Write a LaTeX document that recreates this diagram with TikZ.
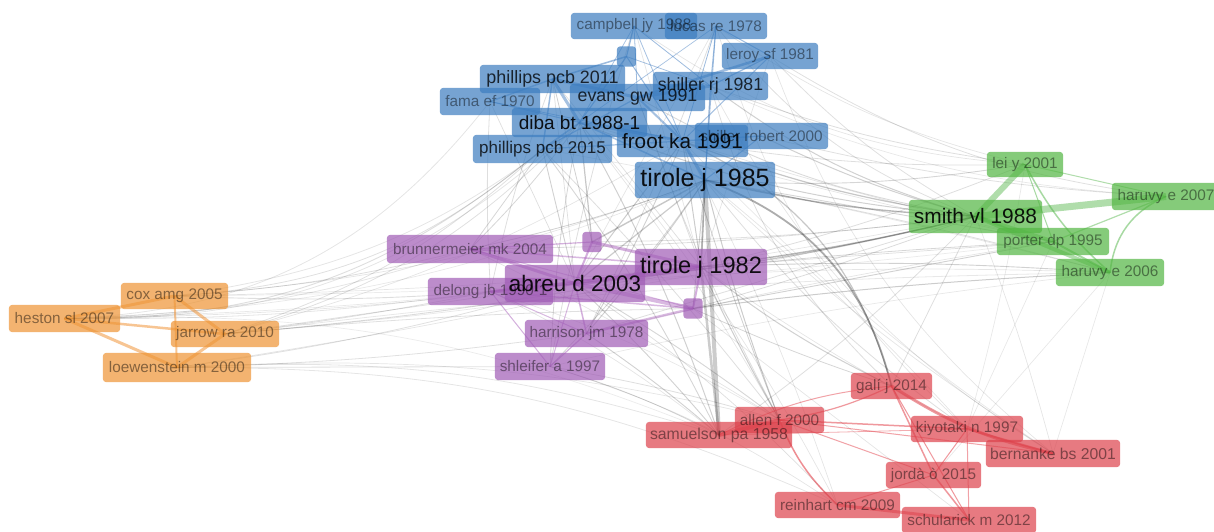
\documentclass[tikz,border=0pt]{standalone}
\usepackage{fontspec}
\setmainfont{Liberation Sans}
\usetikzlibrary{backgrounds}
\pgfdeclarelayer{boxes}
\pgfsetlayers{background,boxes,main}
\definecolor{cblue}{RGB}{60,125,192}
\definecolor{cpurple}{RGB}{160,92,182}
\definecolor{cgreen}{RGB}{82,182,66}
\definecolor{corange}{RGB}{238,148,52}
\definecolor{cred}{RGB}{221,66,76}
\definecolor{eblue}{RGB}{60,120,190}
\definecolor{epurple}{RGB}{160,80,180}
\definecolor{egreen}{RGB}{80,180,70}
\definecolor{eorange}{RGB}{240,140,40}
\definecolor{ered}{RGB}{225,50,60}
\newcommand\myfs[1]{\fontsize{#1}{#1}\selectfont}
\begin{document}
\begin{tikzpicture}[x=1pt,y=-1pt,
  lbl/.style={rectangle, inner sep=0pt, text=black, align=center},
  sm/.style={lbl, text opacity=0.45, font=\myfs{15.3}},
  md/.style={lbl, text opacity=0.78},
  lg/.style={lbl, text opacity=0.9},
  sq/.style={rectangle, inner sep=0pt, minimum width=19pt, minimum height=20pt},
  boxfill/.style={fill=#1, fill opacity=0.7, rounded corners=3.5pt},
  gedge/.style={draw=black, line cap=round}
]
\useasboundingbox (0,0) rectangle (1214,531);
% ---------- blue cluster
\node[sm,minimum width=102pt,minimum height=26pt] (lucas) at (716,26) {lucas re 1978};
\node[sm,minimum width=126pt,minimum height=26pt] (campbell) at (634,26) {campbell jy 1988};
\node[sm,minimum width=96pt,minimum height=26pt] (leroy) at (770,56) {leroy sf 1981};
\node[sq] (sqA) at (626.5,56.5) {};
\node[sm,minimum width=100pt,minimum height=27pt] (fama) at (490,101.5) {fama ef 1970};
\node[md,font=\myfs{17.9},minimum width=145pt,minimum height=28pt] (phil11) at (552.5,79) {phillips pcb 2011};
\node[md,font=\myfs{17.7},minimum width=115pt,minimum height=28pt] (shil81) at (710.5,86) {shiller rj 1981};
\node[md,font=\myfs{17.8},minimum width=135pt,minimum height=27pt] (evans) at (637.5,97.5) {evans gw 1991};
\node[lg,font=\myfs{19},minimum width=135pt,minimum height=29pt] (diba) at (579.5,122.5) {diba bt 1988-1};
\node[md,font=\myfs{17},minimum width=139pt,minimum height=28pt] (phil15) at (542.5,149) {phillips pcb 2015};
\node[sm,minimum width=133pt,minimum height=26pt] (shilR) at (761.5,136) {shiller robert 2000};
\node[lg,font=\myfs{20.7},minimum width=131pt,minimum height=32pt] (froot) at (682.5,141) {froot ka 1991};
\node[lg,font=\myfs{25},minimum width=140pt,minimum height=36pt] (tir85) at (705,180) {tirole j 1985};
% ---------- purple cluster
\node[sm,minimum width=166pt,minimum height=28pt] (brunn) at (470,249) {brunnermeier mk 2004};
\node[sq] (sqC) at (592,242) {};
\node[sm,minimum width=125pt,minimum height=27pt] (delong) at (490.5,291.5) {delong jb 1990-1};
\node[lg,font=\myfs{23.6},minimum width=132pt,minimum height=36pt] (tir82) at (701,267) {tirole j 1982};
\node[lg,font=\myfs{22.4},minimum width=140pt,minimum height=37pt] (abreu) at (575,283.5) {abreu d 2003};
\node[sq] (sqD) at (693,308.5) {};
\node[sm,minimum width=123pt,minimum height=27pt] (harr) at (586.5,333.5) {harrison jm 1978};
\node[sm,minimum width=110pt,minimum height=27pt] (shlei) at (550,366.5) {shleifer a 1997};
% ---------- green cluster
\node[sm,minimum width=76pt,minimum height=25pt] (lei) at (1025,164.5) {lei y 2001};
\node[sm,minimum width=108pt,minimum height=27pt] (haru07) at (1166,196.5) {haruvy e 2007};
\node[lg,font=\myfs{20.9},minimum width=133pt,minimum height=33pt] (smith) at (975.5,216.5) {smith vl 1988};
\node[sm,minimum width=112pt,minimum height=27pt] (porter) at (1053,241.5) {porter dp 1995};
\node[sm,minimum width=108pt,minimum height=27pt] (haru06) at (1110,272.5) {haruvy e 2006};
% ---------- orange cluster
\node[sm,minimum width=107pt,minimum height=26pt] (cox) at (174.5,296) {cox amg 2005};
\node[sm,minimum width=111pt,minimum height=27pt] (heston) at (64.5,318.5) {heston sl 2007};
\node[sm,minimum width=108pt,minimum height=26pt] (jarrow) at (225,334) {jarrow ra 2010};
\node[sm,minimum width=148pt,minimum height=29pt] (loew) at (177,367.5) {loewenstein m 2000};
% ---------- red cluster
\node[sm,minimum width=81pt,minimum height=26pt] (gali) at (891.5,386) {galí j 2014};
\node[sm,font=\myfs{15.8},minimum width=146pt,minimum height=26pt] (samu) at (719,435) {samuelson pa 1958};
\node[sm,minimum width=89pt,minimum height=26pt] (allen) at (779.5,420) {allen f 2000};
\node[sm,minimum width=112pt,minimum height=26pt] (kiyo) at (967,429) {kiyotaki n 1997};
\node[sm,font=\myfs{15.7},minimum width=134pt,minimum height=27pt] (bern) at (1053,453.5) {bernanke bs 2001};
\node[sm,minimum width=95pt,minimum height=26pt] (jorda) at (933.5,475) {jordà ò 2015};
\node[sm,minimum width=125pt,minimum height=26pt] (rein) at (837.5,505) {reinhart cm 2009};
\node[sm,minimum width=134pt,minimum height=26pt] (schul) at (969,520) {schularick m 2012};

% ---------- boxes (below all texts)
\begin{pgfonlayer}{boxes}
\foreach \n/\c in {lucas/cblue, campbell/cblue, leroy/cblue, sqA/cblue, fama/cblue, phil11/cblue,
  shil81/cblue, evans/cblue, diba/cblue, phil15/cblue, shilR/cblue, froot/cblue, tir85/cblue,
  brunn/cpurple, sqC/cpurple, delong/cpurple, tir82/cpurple, abreu/cpurple, sqD/cpurple, harr/cpurple, shlei/cpurple,
  lei/cgreen, haru07/cgreen, smith/cgreen, porter/cgreen, haru06/cgreen,
  cox/corange, heston/corange, jarrow/corange, loew/corange,
  gali/cred, samu/cred, allen/cred, kiyo/cred, bern/cred, jorda/cred, rein/cred, schul/cred}
  \fill[boxfill=\c] (\n.south west) rectangle (\n.north east);
\end{pgfonlayer}

\begin{pgfonlayer}{background}
\fill[white] (0,0) rectangle (1214,531);
% ---------- gray inter-cluster links
\foreach \a/\b/\bd/\w/\o in {
 tir85/samu/0/4/0.2, tir82/samu/0/2.5/0.2, tir85/gali/28/1.8/0.32, froot/gali/25/1.2/0.22,
 tir85/smith/-5/1.4/0.28, tir82/smith/-3/1.4/0.28, abreu/smith/-4/1.2/0.22, froot/smith/-6/1.2/0.22,
 diba/smith/-8/1/0.18, shil81/smith/-10/1/0.18, evans/smith/-10/0.9/0.14, shilR/smith/-5/1/0.18,
 heston/phil15/-20/0.9/0.13, heston/diba/-22/0.8/0.1, heston/fama/-25/0.8/0.1, cox/phil15/-18/0.8/0.12,
 cox/diba/-15/0.8/0.1, jarrow/diba/-15/0.8/0.12, jarrow/phil15/-12/0.8/0.12, cox/brunn/-5/0.8/0.13,
 cox/abreu/-4/0.9/0.13, heston/brunn/-8/0.8/0.1, heston/delong/-4/0.8/0.1, jarrow/tir82/-3/0.9/0.14,
 jarrow/delong/-2/0.8/0.12, jarrow/sqD/2/0.8/0.12, loew/harr/-3/0.8/0.12, loew/abreu/-4/0.8/0.12,
 loew/shlei/0/0.8/0.12, loew/samu/10/0.8/0.1, loew/rein/12/0.8/0.1, heston/samu/12/0.7/0.08,
 jarrow/haru06/3/0.8/0.09, cox/porter/-3/0.7/0.08, jarrow/smith/-4/0.7/0.09, loew/allen/8/0.7/0.1,
 heston/tir85/-10/0.7/0.09, cox/tir85/-8/0.7/0.1, jarrow/froot/-8/0.7/0.1, heston/tir82/-3/0.7/0.09,
 cox/tir82/-2/0.7/0.1, jarrow/abreu/0/0.8/0.12, loew/tir82/-2/0.7/0.1, heston/abreu/-3/0.7/0.1,
 brunn/phil15/0/0.8/0.16, brunn/diba/-4/0.8/0.16, brunn/tir85/-4/0.8/0.18, delong/phil11/4/0.8/0.13,
 delong/fama/3/0.8/0.13, harr/froot/-3/0.9/0.18, harr/tir85/-3/0.9/0.18, shlei/diba/4/0.8/0.16,
 shlei/tir85/-4/0.8/0.16, abreu/phil15/0/0.9/0.18, abreu/froot/0/1/0.2, tir82/froot/0/1/0.2,
 tir82/tir85/0/1.8/0.25, sqD/tir85/0/1/0.18, sqC/phil11/0/0.8/0.18, shlei/campbell/3/0.8/0.13,
 harr/lucas/-3/0.8/0.13, sqC/tir85/0/1.4/0.22, sqC/diba/0/1.2/0.22, abreu/tir85/0/1.2/0.2,
 tir82/haru06/3/0.9/0.18, sqD/haru06/2/1/0.2, sqD/porter/0/0.9/0.18, abreu/porter/2/0.8/0.16,
 brunn/smith/-3/0.8/0.13, delong/smith/-2/0.7/0.1, harr/smith/0/0.8/0.13, shlei/haru06/3/0.7/0.09,
 tir82/lei/-4/0.8/0.13, tir85/lei/-6/0.9/0.16, tir85/porter/0/0.9/0.16, tir85/haru06/2/0.8/0.13,
 froot/lei/-5/0.8/0.13, shil81/lei/-6/0.8/0.13, leroy/haru07/-12/0.8/0.12, lucas/smith/-15/0.8/0.12,
 shilR/haru07/-5/0.8/0.12, diba/porter/-2/0.7/0.1, phil15/haru06/2/0.7/0.09, campbell/lei/-15/0.7/0.1,
 diba/samu/5/1/0.18, phil15/samu/5/0.9/0.16, phil15/allen/3/0.8/0.13, evans/allen/-4/0.8/0.13,
 froot/allen/-2/0.8/0.18, tir85/allen/-3/1/0.2, tir85/kiyo/-8/0.8/0.13, shil81/gali/-15/0.8/0.13,
 shil81/bern/-15/0.7/0.1, leroy/bern/-15/0.7/0.1, lucas/kiyo/-15/0.7/0.1, froot/rein/4/0.7/0.1,
 diba/rein/6/0.7/0.1, tir82/gali/-6/1/0.18, tir82/allen/-2/1/0.2, abreu/samu/3/0.9/0.18,
 abreu/rein/6/0.7/0.13, harr/samu/3/0.9/0.18, shlei/samu/5/0.8/0.16, shlei/allen/3/0.8/0.13,
 sqD/gali/-3/0.8/0.16, sqD/schul/0/0.7/0.1, delong/samu/6/0.7/0.1, brunn/allen/3/0.7/0.1,
 shlei/rein/8/0.7/0.1, smith/gali/0/0.8/0.13, smith/bern/3/0.7/0.1, porter/kiyo/0/0.7/0.09,
 haru06/bern/0/0.7/0.09, lei/kiyo/3/0.7/0.09, haru06/jorda/0/0.7/0.09, smith/samu/5/0.8/0.13,
 tir85/kiyo/4/0.7/0.1, froot/bern/-6/0.7/0.09, diba/allen/4/0.7/0.1, abreu/allen/3/0.9/0.16,
 delong/allen/6/0.7/0.09, tir82/kiyo/-3/0.7/0.1, tir82/porter/0/0.7/0.13, abreu/haru06/3/0.7/0.1,
 phil11/tir82/0/0.7/0.13, fama/abreu/0/0.7/0.13, evans/tir82/0/0.7/0.13, campbell/tir82/0/0.7/0.1,
 leroy/tir82/0/0.7/0.1, shil81/tir82/0/0.8/0.13, lucas/abreu/0/0.7/0.1, phil11/abreu/0/0.7/0.13,
 tir85/bern/-5/0.7/0.1, sqD/smith/-2/0.8/0.14, harr/porter/2/0.7/0.1, froot/porter/-2/0.7/0.1,
 lucas/lei/-10/0.7/0.1, leroy/smith/-8/0.8/0.12, shil81/haru07/-10/0.7/0.09, sqC/smith/-3/0.8/0.12}
 \draw[gedge, line width=\w pt, draw opacity=\o] (\a.center) to[bend left=\bd] (\b.center);
% ---------- blue links
\foreach \a/\b/\bd/\w/\o in {
 campbell/shil81/0/0.8/0.5, campbell/sqA/0/1.2/0.5, campbell/evans/0/0.8/0.5, campbell/diba/0/0.7/0.45,
 campbell/froot/0/0.8/0.45, lucas/leroy/0/1/0.5, lucas/shil81/0/1/0.5, lucas/froot/0/0.8/0.5,
 lucas/tir85/0/0.8/0.45, lucas/diba/0/0.7/0.45, leroy/shil81/0/1.2/0.5, leroy/evans/0/2.5/0.5,
 sqA/phil11/0/1.5/0.5, sqA/diba/0/1.2/0.5, sqA/froot/0/1/0.5, phil11/phil15/0/1.5/0.5,
 phil11/diba/0/3/0.45, phil11/evans/0/3/0.45, fama/diba/0/1/0.45, fama/froot/0/0.8/0.45,
 fama/phil11/0/1.5/0.45, evans/froot/0/2/0.45, evans/shil81/0/3/0.45, diba/froot/0/3/0.45,
 diba/tir85/0/1.5/0.45, froot/tir85/0/3/0.45, phil15/diba/0/1.5/0.45, phil15/froot/0/1.2/0.45,
 shilR/froot/0/1.5/0.5, shil81/tir85/0/1.2/0.45, shilR/tir85/0/1/0.45, leroy/froot/0/1/0.45,
 sqA/shil81/0/0.8/0.45, phil15/evans/0/1.2/0.45}
 \draw[draw=eblue, line width=\w pt, draw opacity=\o] (\a.center) to[bend left=\bd] (\b.center);
% ---------- purple links
\foreach \a/\b/\bd/\w/\o in {
 brunn/abreu/0/3/0.45, brunn/sqC/0/1.2/0.45, sqC/tir82/0/3/0.45, sqC/abreu/0/2/0.45,
 abreu/tir82/0/5/0.45, abreu/delong/0/3/0.45, abreu/sqD/0/4/0.4, tir82/sqD/0/2/0.45,
 abreu/harr/0/1.5/0.45, delong/shlei/0/1/0.45, harr/shlei/0/1.2/0.45, delong/harr/0/1/0.4,
 sqD/harr/0/2.5/0.4, brunn/tir82/0/1.5/0.4, delong/tir82/0/2/0.4, abreu/shlei/0/1/0.4,
 delong/sqD/0/1.5/0.4, brunn/sqD/0/1/0.35}
 \draw[draw=epurple, line width=\w pt, draw opacity=\o] (\a.center) to[bend left=\bd] (\b.center);
% ---------- green links
\foreach \a/\b/\bd/\w/\o in {
 smith/lei/0/6/0.45, smith/haru07/0/7/0.45, smith/porter/0/4/0.45, smith/haru06/0/4/0.45,
 lei/porter/0/1/0.5, lei/haru06/-10/1.5/0.5, lei/haru07/0/1/0.45, porter/haru06/0/2/0.5,
 haru07/haru06/-30/1.5/0.5, porter/haru07/0/1.2/0.45}
 \draw[draw=egreen, line width=\w pt, draw opacity=\o] (\a.center) to[bend left=\bd] (\b.center);
% ---------- orange links
\foreach \a/\b/\bd/\w/\o in {
 heston/cox/0/3/0.5, heston/jarrow/0/2.5/0.5, heston/loew/0/3/0.5, cox/jarrow/0/3/0.5,
 cox/loew/0/2/0.5, jarrow/loew/0/3/0.5}
 \draw[draw=eorange, line width=\w pt, draw opacity=\o] (\a.center) to[bend left=\bd] (\b.center);
% ---------- red links
\foreach \a/\b/\bd/\w/\o in {
 gali/bern/-10/3/0.5, gali/allen/8/1.2/0.5, allen/samu/0/4/0.5, allen/rein/-12/1.5/0.55,
 rein/schul/0/3/0.5, gali/schul/0/1/0.5, gali/jorda/0/1.5/0.5, kiyo/jorda/0/1/0.5,
 kiyo/bern/0/2/0.5, allen/kiyo/0/1.5/0.5, allen/bern/0/1/0.45, jorda/schul/0/1.5/0.5,
 samu/gali/10/1/0.45, jorda/rein/0/1/0.45, kiyo/schul/0/1/0.45, allen/jorda/0/1/0.45,
 samu/kiyo/0/0.8/0.4}
 \draw[draw=ered, line width=\w pt, draw opacity=\o] (\a.center) to[bend left=\bd] (\b.center);
\end{pgfonlayer}
\end{tikzpicture}
\end{document}
